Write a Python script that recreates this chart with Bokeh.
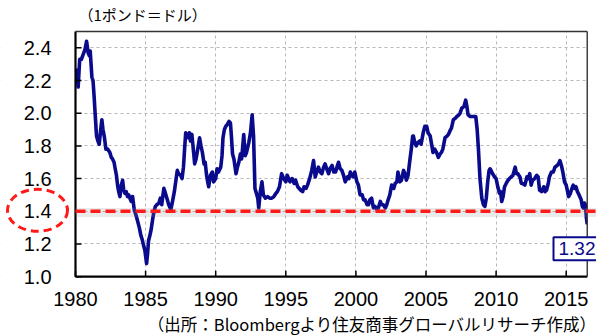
from bokeh.plotting import figure
from bokeh.models import (Range1d, FixedTicker, Label, Arrow, Title, BoxAnnotation,
                          ColumnDataSource)
from bokeh.core.properties import value
from bokeh.embed import file_html
from bokeh.resources import INLINE

# ---- data (GBP/USD, decimal years) ----
years = [
    1980.00, 1980.10, 1980.19, 1980.30, 1980.42, 1980.55, 1980.68, 1980.79, 1980.90, 1981.00,
    1981.05, 1981.17, 1981.25, 1981.33, 1981.42, 1981.50, 1981.60, 1981.69, 1981.80, 1981.88,
    1981.96, 1982.05, 1982.17, 1982.30, 1982.45, 1982.55, 1982.64, 1982.75, 1982.83, 1982.92,
    1983.00, 1983.08, 1983.17, 1983.27, 1983.36, 1983.44, 1983.52, 1983.62, 1983.71, 1983.80,
    1983.88, 1983.98, 1984.07, 1984.19, 1984.30, 1984.43, 1984.55, 1984.67, 1984.75, 1984.83,
    1984.95, 1985.07, 1985.14, 1985.21, 1985.30, 1985.40, 1985.50, 1985.60, 1985.70, 1985.80,
    1985.95, 1986.05, 1986.15, 1986.30, 1986.38, 1986.45, 1986.55, 1986.65, 1986.80, 1986.92,
    1987.05, 1987.18, 1987.26, 1987.35, 1987.50, 1987.60, 1987.70, 1987.78, 1987.86, 1987.95,
    1988.05, 1988.12, 1988.20, 1988.30, 1988.38, 1988.50, 1988.60, 1988.72, 1988.85, 1988.95,
    1989.05, 1989.17, 1989.25, 1989.35, 1989.45, 1989.50, 1989.62, 1989.76, 1989.85, 1990.00,
    1990.10, 1990.20, 1990.36, 1990.45, 1990.52, 1990.62, 1990.72, 1990.82, 1990.95, 1991.05,
    1991.12, 1991.20, 1991.30, 1991.45, 1991.55, 1991.65, 1991.76, 1991.85, 1991.95, 1992.00,
    1992.10, 1992.20, 1992.36, 1992.48, 1992.60, 1992.70, 1992.80, 1992.90, 1993.00, 1993.07,
    1993.18, 1993.30, 1993.40, 1993.55, 1993.70, 1993.85, 1994.00, 1994.15, 1994.30, 1994.40,
    1994.55, 1994.70, 1994.85, 1995.00, 1995.10, 1995.20, 1995.30, 1995.45, 1995.60, 1995.70,
    1995.85, 1996.05, 1996.20, 1996.30, 1996.45, 1996.55, 1996.70, 1996.85, 1996.98, 1997.10,
    1997.20, 1997.33, 1997.45, 1997.57, 1997.70, 1997.80, 1997.92, 1998.05, 1998.15, 1998.30,
    1998.42, 1998.55, 1998.65, 1998.76, 1998.88, 1999.00, 1999.12, 1999.24, 1999.40, 1999.50,
    1999.60, 1999.70, 1999.80, 1999.92, 2000.07, 2000.18, 2000.30, 2000.45, 2000.55, 2000.66,
    2000.80, 2000.90, 2001.00, 2001.12, 2001.25, 2001.36, 2001.50, 2001.60, 2001.74, 2001.85,
    2001.95, 2002.10, 2002.20, 2002.30, 2002.42, 2002.55, 2002.70, 2002.80, 2002.92, 2003.00,
    2003.14, 2003.25, 2003.40, 2003.50, 2003.60, 2003.72, 2003.86, 2003.95, 2004.05, 2004.10,
    2004.20, 2004.30, 2004.42, 2004.55, 2004.65, 2004.80, 2004.92, 2005.05, 2005.15, 2005.30,
    2005.42, 2005.50, 2005.62, 2005.75, 2005.88, 2006.00, 2006.10, 2006.20, 2006.36, 2006.50,
    2006.60, 2006.70, 2006.82, 2006.95, 2007.10, 2007.20, 2007.35, 2007.43, 2007.55, 2007.70,
    2007.83, 2007.92, 2008.00, 2008.15, 2008.30, 2008.45, 2008.55, 2008.65, 2008.74, 2008.85,
    2008.98, 2009.10, 2009.20, 2009.30, 2009.40, 2009.50, 2009.57, 2009.64, 2009.75, 2009.90,
    2010.00, 2010.12, 2010.24, 2010.32, 2010.40, 2010.50, 2010.60, 2010.72, 2010.85, 2010.95,
    2011.07, 2011.20, 2011.36, 2011.45, 2011.55, 2011.70, 2011.80, 2011.90, 2012.05, 2012.20,
    2012.30, 2012.40, 2012.50, 2012.60, 2012.75, 2012.90, 2013.00, 2013.10, 2013.25, 2013.40,
    2013.50, 2013.60, 2013.72, 2013.80, 2013.95, 2014.08, 2014.20, 2014.35, 2014.45, 2014.55,
    2014.66, 2014.76, 2014.88, 2015.00, 2015.10, 2015.17, 2015.30, 2015.45, 2015.50, 2015.60,
    2015.70, 2015.80, 2015.92, 2016.07, 2016.15, 2016.22, 2016.30, 2016.38, 2016.44, 2016.50,
]
rates = [
    2.27, 2.25, 2.16, 2.33, 2.33, 2.36, 2.39, 2.44, 2.37, 2.35,
    2.38, 2.22, 2.20, 2.10, 1.97, 1.86, 1.83, 1.81, 1.90, 1.96,
    1.90, 1.86, 1.78, 1.78, 1.76, 1.73, 1.72, 1.70, 1.66, 1.62,
    1.56, 1.52, 1.49, 1.56, 1.59, 1.53, 1.51, 1.52, 1.49, 1.50,
    1.48, 1.46, 1.49, 1.41, 1.38, 1.34, 1.30, 1.25, 1.23, 1.20,
    1.16, 1.08, 1.14, 1.22, 1.25, 1.29, 1.35, 1.40, 1.43, 1.44,
    1.45, 1.48, 1.44, 1.54, 1.52, 1.50, 1.47, 1.44, 1.41, 1.46,
    1.52, 1.60, 1.65, 1.63, 1.62, 1.60, 1.67, 1.78, 1.88, 1.86,
    1.85, 1.88, 1.83, 1.87, 1.80, 1.69, 1.72, 1.78, 1.85, 1.80,
    1.76, 1.69, 1.70, 1.62, 1.57, 1.55, 1.62, 1.64, 1.58, 1.60,
    1.66, 1.64, 1.67, 1.74, 1.85, 1.90, 1.92, 1.93, 1.95, 1.94,
    1.86, 1.75, 1.72, 1.63, 1.67, 1.70, 1.75, 1.72, 1.82, 1.87,
    1.74, 1.76, 1.82, 1.88, 1.99, 1.86, 1.54, 1.51, 1.48, 1.42,
    1.52, 1.58, 1.50, 1.48, 1.49, 1.48, 1.48, 1.49, 1.51, 1.52,
    1.55, 1.63, 1.60, 1.58, 1.62, 1.60, 1.58, 1.60, 1.57, 1.59,
    1.55, 1.53, 1.52, 1.55, 1.54, 1.56, 1.60, 1.65, 1.71, 1.61,
    1.64, 1.67, 1.64, 1.63, 1.67, 1.69, 1.66, 1.63, 1.66, 1.68,
    1.64, 1.64, 1.67, 1.70, 1.66, 1.65, 1.62, 1.58, 1.61, 1.60,
    1.64, 1.62, 1.61, 1.64, 1.58, 1.56, 1.50, 1.50, 1.47, 1.47,
    1.44, 1.44, 1.47, 1.48, 1.42, 1.43, 1.41, 1.42, 1.46, 1.44,
    1.44, 1.42, 1.44, 1.47, 1.50, 1.56, 1.54, 1.57, 1.58, 1.64,
    1.58, 1.59, 1.65, 1.63, 1.59, 1.62, 1.72, 1.78, 1.86, 1.86,
    1.82, 1.80, 1.82, 1.83, 1.81, 1.88, 1.92, 1.92, 1.88, 1.86,
    1.80, 1.76, 1.78, 1.76, 1.73, 1.75, 1.76, 1.78, 1.85, 1.86,
    1.87, 1.89, 1.91, 1.96, 1.97, 1.98, 1.99, 2.00, 2.03, 2.04,
    2.08, 2.04, 1.99, 1.98, 1.98, 1.98, 1.98, 1.90, 1.78, 1.60,
    1.48, 1.44, 1.43, 1.48, 1.58, 1.65, 1.66, 1.65, 1.63, 1.61,
    1.60, 1.55, 1.51, 1.52, 1.46, 1.49, 1.55, 1.57, 1.59, 1.60,
    1.61, 1.62, 1.67, 1.63, 1.63, 1.61, 1.57, 1.57, 1.56, 1.61,
    1.60, 1.63, 1.56, 1.59, 1.60, 1.62, 1.61, 1.53, 1.52, 1.55,
    1.52, 1.53, 1.57, 1.61, 1.64, 1.64, 1.67, 1.68, 1.69, 1.71,
    1.68, 1.64, 1.58, 1.56, 1.52, 1.49, 1.51, 1.55, 1.56, 1.54,
    1.55, 1.52, 1.50, 1.47, 1.43, 1.42, 1.45, 1.44, 1.36, 1.32,
]
x_ticks = [1980, 1985, 1990, 1995, 2000, 2005, 2010, 2015]
y_ticks = [1.0, 1.2, 1.4, 1.6, 1.8, 2.0, 2.2, 2.4]
y_tick_labels = [f"{v:.1f}" for v in y_ticks]
ref_level = 1.4
last_value = 1.32
unit_label = "（1ポンド＝ドル）"
source_note = "（出所：Bloombergより住友商事グローバルリサーチ作成）"

# ---- layout / style constants ----
NAVY = "#0a0a8c"
RED = "#ff1a1a"
W, H = 596, 336
BOX_LEFT_PX, BOX_TOP_PX, BOX_BOTTOM_PX = 75, 27, 277   # drawn plot box
FRAME_TOP, FRAME_BOTTOM = 25, 285                      # bokeh frame (larger)
PXY = 14.02                                            # px per year
PXV = 250 / 1.5                                        # px per unit
XA, XB = 1980.0, 2016.50          # plot box extent in years
YA, YB = 1.0, 2.5                 # plot box extent in rate
X0 = XA - BOX_LEFT_PX / PXY
X1 = XA + (W - BOX_LEFT_PX) / PXY
Y0 = YA - (FRAME_BOTTOM - BOX_BOTTOM_PX) / PXV
Y1 = YB + (BOX_TOP_PX - FRAME_TOP) / PXV
TICK_X = 6 / PXY
TICK_Y = 6 / PXV

p = figure(width=W, height=H, output_backend="svg", toolbar_location=None,
           x_range=Range1d(X0, X1), y_range=Range1d(Y0, Y1),
           min_border_left=0, min_border_right=0, min_border_top=FRAME_TOP,
           min_border_bottom=H - FRAME_BOTTOM,
           background_fill_color="white", border_fill_color="white")
p.outline_line_color = None
p.yaxis.visible = False

xa = p.xaxis[0]
xa.ticker = FixedTicker(ticks=x_ticks)
xa.axis_line_color = None
xa.major_tick_in = 0
xa.major_tick_out = 0
xa.minor_tick_in = 0
xa.minor_tick_out = 0
xa.major_label_text_font = "Liberation Sans"
xa.major_label_text_font_size = "20px"
xa.major_label_text_color = "black"
xa.major_label_standoff = 7

p.xgrid.ticker = FixedTicker(ticks=x_ticks)
p.ygrid.ticker = FixedTicker(ticks=y_ticks)
for g in (p.xgrid[0], p.ygrid[0]):
    g.grid_line_color = "#b8b8b8"
    g.grid_line_dash = "3 3"
    g.grid_line_width = 1

# the series
p.line(years, rates, line_color=NAVY, line_width=3.6, line_join="round")

# white margins around the plot box (frame is larger than the box)
for kw in (dict(right=XA), dict(left=XB), dict(bottom=YB), dict(top=YA)):
    p.add_layout(BoxAnnotation(fill_color="white", fill_alpha=1, line_color=None, **kw))

# box borders and axis lines
borders = ColumnDataSource(dict(
    x0=[XA, XA, XA, XB], y0=[YA, YA, YB, YA],
    x1=[XB, XA, XB, XB], y1=[YA, YB, YB, YB],
    w=[2.2, 2.2, 1.4, 1.4], c=["black", "black", "#333333", "#333333"]))
p.add_layout(Arrow(x_start="x0", y_start="y0", x_end="x1", y_end="y1", source=borders,
                   end=None, line_color="c", line_width="w"))

# inward tick marks
xt = ColumnDataSource(dict(x0=x_ticks, y0=[YA] * len(x_ticks), x1=x_ticks,
                           y1=[YA + TICK_Y] * len(x_ticks)))
yt = ColumnDataSource(dict(x0=[XA] * len(y_ticks), y0=y_ticks,
                           x1=[XA + TICK_X] * len(y_ticks), y1=y_ticks))
for src in (xt, yt):
    p.add_layout(Arrow(x_start="x0", y_start="y0", x_end="x1", y_end="y1", source=src,
                       end=None, line_color="black", line_width=1.5))

# y tick labels
p.text(x=[XA] * len(y_ticks), y=y_ticks, text=y_tick_labels, x_offset=-24,
       text_align="right", text_baseline="middle", text_font=value("Liberation Sans"),
       text_font_size="20px", text_color="black", level="overlay")

# reference line at 1.4 with a soft shadow, running to the page edge
p.add_layout(Arrow(x_start=XA, y_start=ref_level - 0.008, x_end=X1, y_end=ref_level - 0.008,
                   end=None, line_color="#888888", line_alpha=0.18, line_width=9))
p.add_layout(Arrow(x_start=XA, y_start=ref_level, x_end=X1, y_end=ref_level,
                   end=None, line_color=RED, line_width=3.5, line_dash="10 5"))

# dashed ellipse around the 1.4 tick label
p.ellipse(x=[XA - 38 / PXY], y=[ref_level + 0.006], width=60, height=42,
          width_units="screen", height_units="screen", fill_color=None,
          line_color=RED, line_width=3, line_dash="8 5", level="overlay")

# last value box
p.add_layout(Label(x=XA + (553 - BOX_LEFT_PX) / PXY, y=1.17,
                   text=f"{last_value:.2f}", text_align="left", text_baseline="middle",
                   text_font="Liberation Sans", text_font_size="19px", text_color=NAVY,
                   border_line_color=NAVY, border_line_width=2,
                   background_fill_color="white", padding=5))

# unit label and source note
p.add_layout(Title(text=unit_label, align="left", vertical_align="top", offset=78,
                   standoff=6, text_font="Noto Sans CJK JP", text_font_size="15px",
                   text_font_style="normal", text_color="black"), "above")
p.add_layout(Title(text=source_note, align="right", offset=0, standoff=2,
                   text_font="Noto Sans CJK JP", text_font_size="16.5px",
                   text_font_style="normal", text_color="black"), "below")

open("out.html", "w").write(file_html(p, INLINE))
